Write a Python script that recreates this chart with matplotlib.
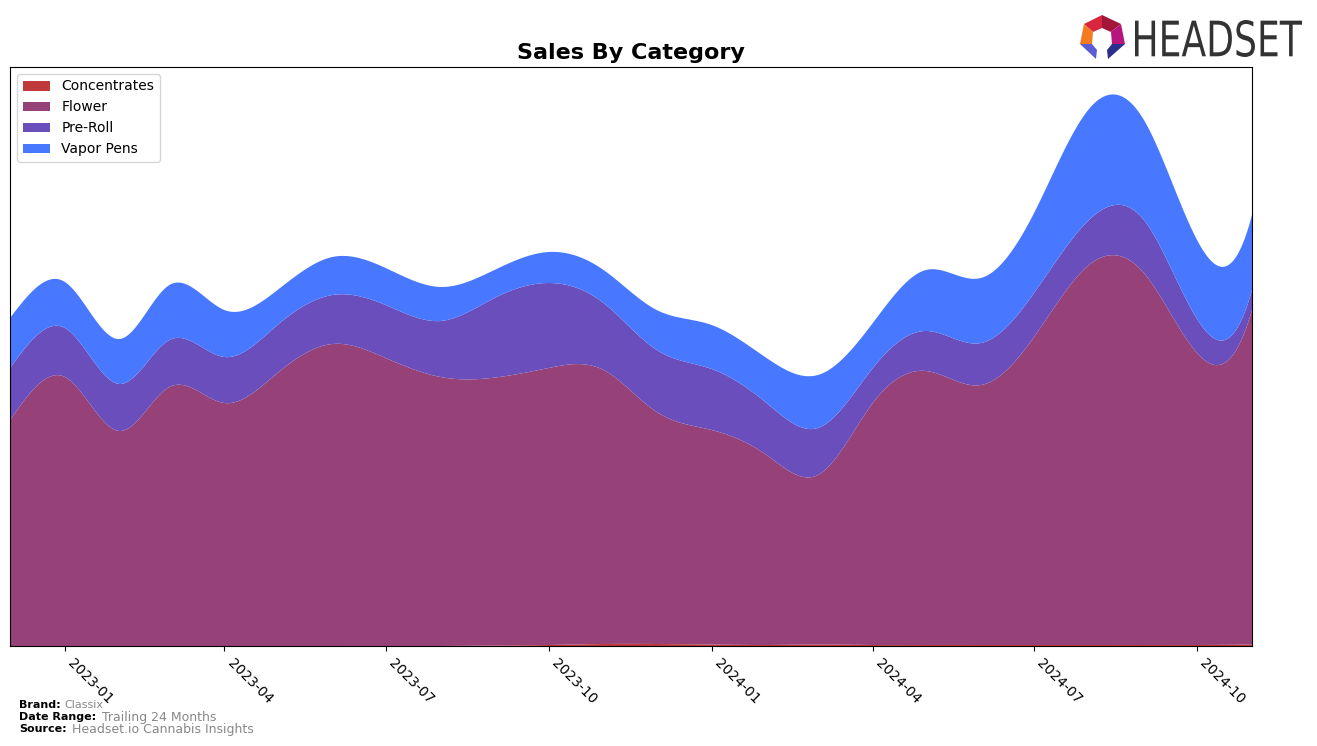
import numpy as np
import matplotlib
matplotlib.use("Agg")
import matplotlib.pyplot as plt
import matplotlib.dates as mdates
from matplotlib.patches import Polygon, PathPatch
from matplotlib.textpath import TextPath
from matplotlib.font_manager import FontProperties
from matplotlib.transforms import Affine2D

# ---- data (monthly, arbitrary sales units) ----
months = ["2022-12", "2023-01", "2023-02", "2023-03", "2023-04", "2023-05",
          "2023-06", "2023-07", "2023-08", "2023-09", "2023-10", "2023-11",
          "2023-12", "2024-01", "2024-02", "2024-03", "2024-04", "2024-05",
          "2024-06", "2024-07", "2024-08", "2024-09", "2024-10", "2024-11"]
categories = ["Concentrates", "Flower", "Pre-Roll", "Vapor Pens"]
colors = ["#C0393B", "#964278", "#6A4EBC", "#4878FF"]

concentrates = [0, 0, 0, 0, 0, 0, 0, 0, 0, 0.5, 1, 2,
                2, 1.5, 1, 1.5, 1, 1, 1, 1, 1, 1, 1, 1.5]
flower = [226, 269, 215, 259, 243, 273, 302, 288, 269, 268, 277, 274,
          232, 214.5, 190, 169.5, 242, 274, 260, 308, 380, 372, 292, 334.5]
pre_roll = [52, 49, 47, 47, 46, 48, 49, 53, 56, 80, 85, 67,
            62, 61, 52, 47, 35, 40, 42, 44, 45, 53, 34, 20]
vapor_pens = [50, 46, 45, 55, 47, 35, 38, 37, 34, 28, 31, 33,
              40, 44, 45, 53, 45, 61, 65, 80, 111, 100, 79, 75]


def smooth_spline(x, y, xs):
    # cubic spline: natural start, not-a-knot end
    x = np.asarray(x, float)
    y = np.asarray(y, float)
    n = len(x)
    h = np.diff(x)
    A = np.zeros((n, n))
    b = np.zeros(n)
    A[0, 0] = 1.0
    A[-1, -3], A[-1, -2], A[-1, -1] = h[-1], -(h[-2] + h[-1]), h[-2]
    for i in range(1, n - 1):
        A[i, i - 1] = h[i - 1]
        A[i, i] = 2 * (h[i - 1] + h[i])
        A[i, i + 1] = h[i]
        b[i] = 3 * ((y[i + 1] - y[i]) / h[i] - (y[i] - y[i - 1]) / h[i - 1])
    c = np.linalg.solve(A, b)
    idx = np.clip(np.searchsorted(x, xs) - 1, 0, n - 2)
    dx = xs - x[idx]
    hi = h[idx]
    bb = (y[idx + 1] - y[idx]) / hi - hi * (2 * c[idx] + c[idx + 1]) / 3
    d = (c[idx + 1] - c[idx]) / (3 * hi)
    return y[idx] + bb * dx + c[idx] * dx ** 2 + d * dx ** 3


xd = mdates.date2num(np.array([np.datetime64(m + "-01") for m in months]))
xs = np.linspace(xd[0], xd[-1], 1500)
series = [concentrates, flower, pre_roll, vapor_pens]
smooth = [np.clip(smooth_spline(xd, s, xs), 0, None) for s in series]

fig = plt.figure(figsize=(13.17, 7.46), dpi=100)
ax = fig.add_axes([10 / 1317, 100 / 746, 1242 / 1317, 579 / 746])
ax.stackplot(xs, *smooth, labels=categories, colors=colors)
ax.set_xlim(xd[0], xd[-1])
ax.set_ylim(0, 579)
ax.set_yticks([])
ax.xaxis.set_major_locator(mdates.MonthLocator(bymonth=[1, 4, 7, 10]))
ax.xaxis.set_major_formatter(mdates.DateFormatter("%Y-%m"))
for lab in ax.get_xticklabels():
    lab.set_rotation(-45)
    lab.set_ha("left")
    lab.set_va("top")
    lab.set_fontsize(10)
ax.set_title("Sales By Category", fontsize=16, fontweight="bold", pad=6)
ax.legend(loc="upper left", fontsize=10, frameon=True)

# footer
fig.text(19 / 1317, 1 - 705 / 746, "Brand:", fontsize=8, fontweight="bold", va="center")
fig.text(64 / 1317, 1 - 705 / 746, "Classix", fontsize=8, color="#888888", va="center")
fig.text(19 / 1317, 1 - 717 / 746, "Date Range:", fontsize=8, fontweight="bold", va="center")
fig.text(102 / 1317, 1 - 717 / 746, "Trailing 24 Months", fontsize=9, color="#888888", va="center")
fig.text(19 / 1317, 1 - 729 / 746, "Source:", fontsize=8, fontweight="bold", va="center")
fig.text(72 / 1317, 1 - 729 / 746, "Headset.io Cannabis Insights", fontsize=9, color="#888888", va="center")

# logo text, fitted into its box
tp = TextPath((0, 0), "HEADSET", size=100, prop=FontProperties(family="DejaVu Sans"))
bb = tp.get_extents()
tr = (Affine2D().translate(-bb.x0, -bb.y0)
      .scale(167 / bb.width, 37 / bb.height)
      .translate(1135, 746 - 57)
      .scale(1 / 1317, 1 / 746)) + fig.transFigure
fig.patches.append(PathPatch(tp, facecolor="#333333", edgecolor="none", transform=tr))


def P(pts):
    return [(px / 1317, 1 - py / 746) for px, py in pts]


logo_parts = [
    ([(1084, 24), (1102, 15), (1102, 28), (1093, 32)], "#D7263D"),
    ([(1102, 15), (1121, 24), (1111, 32), (1102, 28)], "#A3153A"),
    ([(1084, 24), (1093, 32), (1092, 44), (1080, 44)], "#F47B20"),
    ([(1121, 24), (1125, 44), (1112, 44), (1111, 32)], "#B5157D"),
    ([(1080, 44), (1092, 44), (1097, 50), (1096, 59)], "#5B5BD6"),
    ([(1125, 44), (1112, 44), (1107, 50), (1108, 59)], "#2B2F8C"),
]
for pts, col in logo_parts:
    fig.patches.append(Polygon(P(pts), closed=True, facecolor=col,
                               edgecolor="none", transform=fig.transFigure))

fig.savefig("out.png", dpi=100)
